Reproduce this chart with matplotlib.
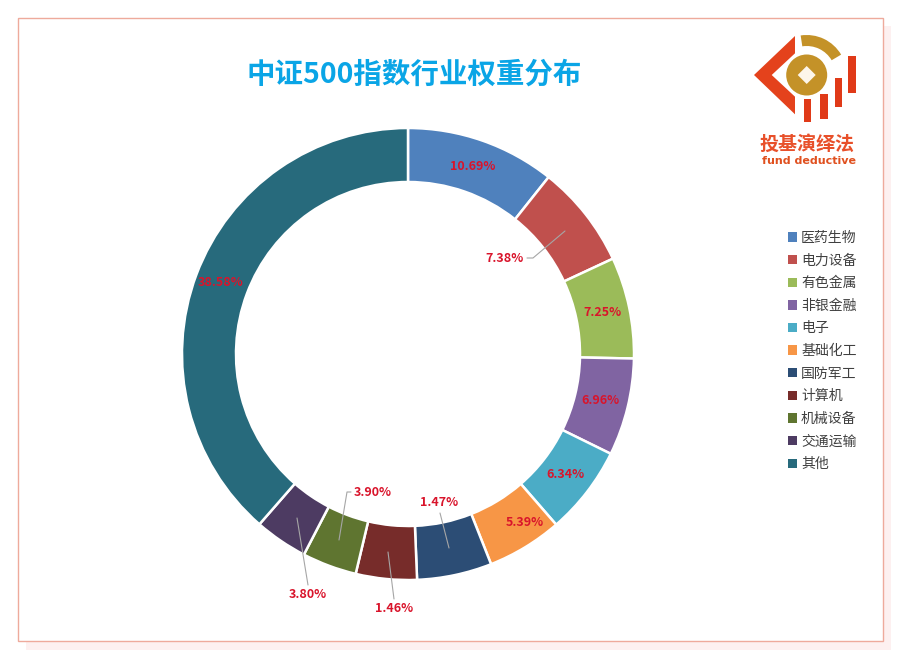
import matplotlib
matplotlib.use("Agg")
import matplotlib.pyplot as plt
from matplotlib.patches import Rectangle, Polygon, Wedge, Circle, Patch

plt.rcParams['font.family'] = ['Noto Sans CJK SC', 'DejaVu Sans']

# ---- data ----
categories = ['医药生物', '电力设备', '有色金属', '非银金融', '电子', '基础化工',
              '国防军工', '计算机', '机械设备', '交通运输', '其他']
arc_values = [10.69, 7.38, 7.25, 6.96, 6.34, 5.39, 5.35, 4.36, 3.90, 3.80, 38.58]
shown_labels = ['10.69%', '7.38%', '7.25%', '6.96%', '6.34%', '5.39%',
                '1.47%', '1.46%', '3.90%', '3.80%', '38.58%']
colors = ['#4f81bd', '#c0504d', '#9bbb59', '#8064a2', '#4bacc6', '#f79646',
          '#2c4d75', '#772c2a', '#5f7530', '#4d3b62', '#276a7c']
title = '中证500指数行业权重分布'

# ---- layout (pixels, y down) ----
W, H = 900, 660
CX, CY, R, RING = 408, 354, 226, 54
label_pos = [(473, 166), (505, 258), (602, 312), (600, 400), (565, 474), (525, 523),
             (439, 503), (394, 609), (373, 492), (308, 594), (221, 283)]
leaders = {
    1: [(527, 258), (533, 258), (565, 231)],
    6: [(440, 513), (449, 548)],
    7: [(394, 599), (388, 552)],
    8: [(351, 492), (347, 492), (339, 540)],
    9: [(308, 585), (297, 518)],
}

fig = plt.figure(figsize=(W / 100, H / 100), dpi=100, facecolor='white')

# card + shadow
bg = fig.add_axes([0, 0, 1, 1])
bg.set_xlim(0, W); bg.set_ylim(H, 0); bg.axis('off')
bg.add_patch(Rectangle((26, 26), 865, 624, fc='#fdf0f0', ec='none'))
bg.add_patch(Rectangle((18, 18), 865, 623, fc='white', ec='#eeaa9c', lw=1.0))

# ring
ax = fig.add_axes([0, 0, 1, 1])
ax.patch.set_visible(False)
wedges, _ = ax.pie(arc_values, colors=colors, startangle=90, counterclock=False,
                   radius=R, center=(CX, H - CY),
                   wedgeprops=dict(width=RING, edgecolor='white', linewidth=1.8))
ax.set_xlim(0, W); ax.set_ylim(0, H)
ax.set_aspect('equal'); ax.axis('off')

# legend
handles = [Patch(fc=c, ec='none', label=n) for c, n in zip(colors, categories)]
ax.legend(handles=handles, loc='center left', bbox_to_anchor=(782 / W, 1 - 351 / H),
          bbox_transform=fig.transFigure, frameon=False, fontsize=10,
          labelspacing=0.62, handlelength=0.65, handleheight=0.65, handletextpad=0.32,
          borderpad=0.4, borderaxespad=0, labelcolor='#404040')

# overlay in pixel coordinates
ov = fig.add_axes([0, 0, 1, 1])
ov.set_xlim(0, W); ov.set_ylim(H, 0); ov.axis('off'); ov.patch.set_visible(False)

for pts in leaders.values():
    ov.plot(*zip(*pts), color='#a6a6a6', lw=0.8, solid_capstyle='round')
for txt, (x, y) in zip(shown_labels, label_pos):
    ov.text(x, y, txt, color='#d9142b', fontsize=9, fontweight='bold', ha='center', va='center')

ov.text(414, 75, title, color='#0aa5e6', fontsize=20.5, fontweight='bold', ha='center', va='center')

# logo
red, gold = '#e03a18', '#c49228'
ov.add_patch(Polygon([(795, 36), (795, 53.3), (771.7, 75), (795, 96.7), (795, 114.3), (754, 75)], fc='#e4421c', ec='none'))
ov.add_patch(Wedge((806.7, 75), 40, -98.7, -30.6, width=11, fc=gold, ec='none'))
ov.add_patch(Circle((806.7, 75), 20.5, fc=gold, ec='none'))
ov.add_patch(Polygon([(806.7, 66), (815.7, 75), (806.7, 84), (797.7, 75)], fc='#fdf6ea', ec='none'))
for x0, y0, x1, y1 in [(803.7, 99.3, 811.3, 121.7), (819.7, 94, 827.7, 119.3),
                       (834.7, 77.7, 842.3, 107.3), (848, 55.7, 855.7, 92.7)]:
    ov.add_patch(Rectangle((x0, y0), x1 - x0, y1 - y0, fc=red, ec='none'))
ov.text(807, 144, '投基演绎法', color='#e8502a', fontsize=13.7, fontweight='bold', ha='center', va='center')
ov.text(809, 161.5, 'fund deductive', color='#e0501f', fontsize=8, fontweight='bold',
        ha='center', va='center', family=['DejaVu Sans'])

fig.savefig('out.png', dpi=100, facecolor='white')
